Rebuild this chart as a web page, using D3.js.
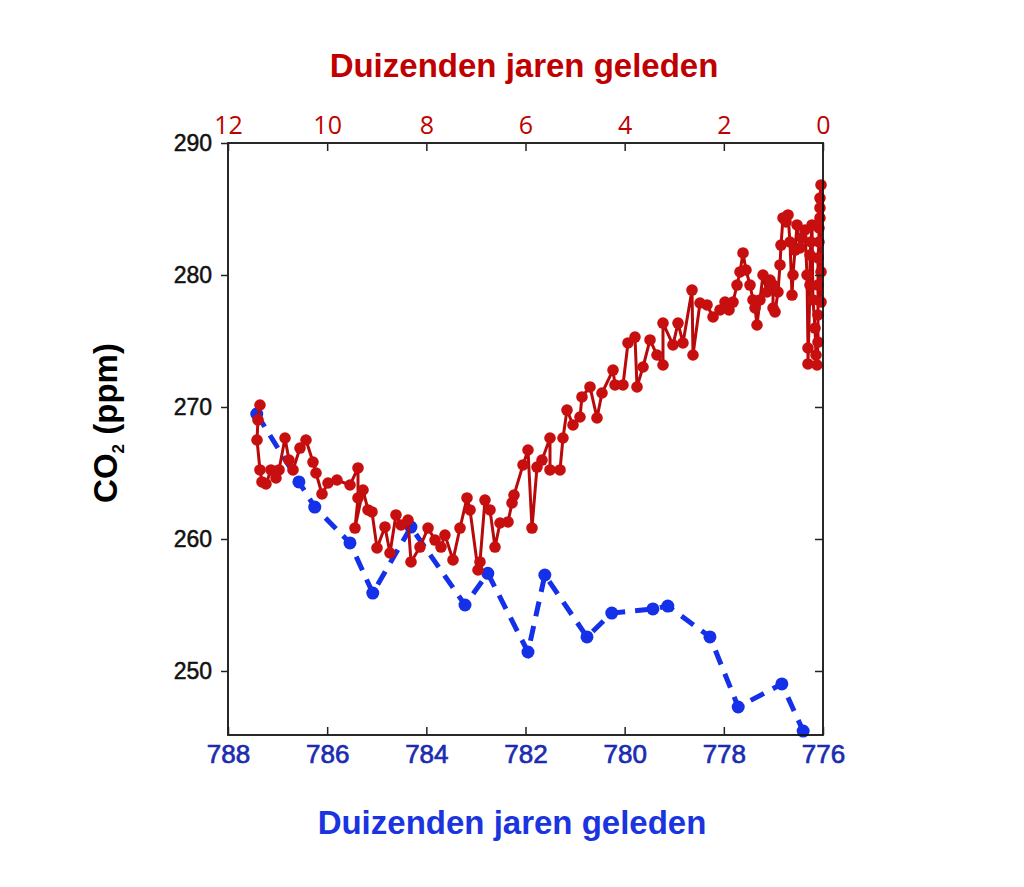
<!DOCTYPE html>
<html lang="nl">
  <head>
    <meta charset="utf-8">
    <title>CO2 (ppm)</title>
    <script type="text/javascript" src="https://d3js.org/d3.v7.min.js"></script>
    <style type="text/css">
    body {
      margin: 0;
      background: #fff;
    }
    .title {
      font-family: "Liberation Sans", Arial, sans-serif;
      font-size: 33px;
      font-weight: bold;
    }
    .axisTop text {
      font-family: "Open Sans", "Liberation Sans", sans-serif;
      font-size: 25px;
      fill: #c00000;
    }
    .axisBottom text {
      font-family: "Liberation Sans", Arial, sans-serif;
      font-size: 26px;
      fill: #1c2cb0;
      stroke: #1c2cb0;
      stroke-width: 0.7px;
    }
    .axisLeft text {
      font-family: "Liberation Sans", Arial, sans-serif;
      font-size: 23px;
      fill: #111;
      stroke: #111;
      stroke-width: 0.5px;
    }
    .tick line {
      stroke: #222;
      stroke-width: 1.5px;
    }
    </style>
  </head>
  <body>
    <svg width="1024" height="887" id="chart"></svg>

    <script type="text/javascript">

    const plotL = 228, plotR = 823, plotT = 143, plotB = 735;

    // top axis: thousands of years ago (red series)
    const topTicks = [12, 10, 8, 6, 4, 2, 0];
    // bottom axis: thousands of years ago (blue series)
    const bottomTicks = [788, 786, 784, 782, 780, 778, 776];
    const yTicks = [250, 260, 270, 280, 290];

    // red series: Holocene
    const redAge = [
      11.355, 11.395, 11.415, 11.355, 11.314, 11.234, 11.133, 11.032, 10.971, 10.850,
      10.770, 10.689, 10.548, 10.427, 10.286, 10.225, 10.104, 9.983, 9.802, 9.539,
      9.378, 9.378, 9.439, 9.277, 9.176, 9.096, 8.995, 8.834, 8.733, 8.612,
      8.511, 8.370, 8.309, 8.128, 7.966, 7.825, 7.704, 7.624, 7.462, 7.321,
      7.180, 7.119, 6.958, 6.918, 6.817, 6.716, 6.615, 6.514, 6.353, 6.272,
      6.232, 6.050, 5.950, 5.869, 5.768, 5.667, 5.506, 5.506, 5.304, 5.244,
      5.163, 5.042, 4.901, 4.861, 4.699, 4.558, 4.457, 4.235, 4.195, 4.034,
      3.933, 3.792, 3.751, 3.630, 3.489, 3.348, 3.227, 3.227, 3.025, 2.924,
      2.824, 2.642, 2.622, 2.481, 2.339, 2.218, 2.077,
      1.976, 1.896, 1.815, 1.734, 1.674, 1.613, 1.553, 1.472, 1.412, 1.371,
      1.331, 1.271, 1.210, 1.129, 1.069, 1.008, 1.008, 0.968, 0.908, 0.867,
      0.847, 0.807, 0.746, 0.706, 0.666, 0.625, 0.605, 0.565, 0.524, 0.464,
      0.424, 0.363, 0.323, 0.303, 0.303, 0.262, 0.262, 0.242, 0.222, 0.202,
      0.161, 0.141, 0.121, 0.101, 0.101, 0.101, 0.101, 0.081, 0.081, 0.061,
      0.061, 0.061, 0.040, 0.040, 0.040
    ];
    const redCO2 = [
      270.15, 269.02, 267.50, 265.23, 264.32, 264.17, 265.23, 264.62, 265.23, 267.65,
      265.98, 265.23, 266.89, 267.50, 265.83, 265.00, 263.41, 264.24, 264.47, 264.09,
      265.38, 263.11, 260.83, 263.71, 262.20, 262.05, 259.32, 260.91, 258.94, 261.82,
      261.06, 261.44, 258.26, 259.39, 260.83, 259.92, 259.39, 260.30, 258.41, 260.83,
      263.11, 262.20, 257.65, 258.26, 262.95, 262.20, 259.39, 261.21, 261.29, 262.73,
      263.33, 265.61, 266.74, 260.83, 265.45, 265.98, 267.65, 265.23, 265.23, 267.65,
      269.77, 268.64, 269.24, 270.76, 271.52, 269.17, 271.06, 272.80, 271.67, 271.67,
      274.85, 275.30, 271.52, 273.03, 275.08, 273.94, 273.18, 276.36, 274.70, 276.36,
      274.85, 278.86, 273.94, 277.88, 277.73, 276.82, 277.35,
      277.95, 277.35, 277.95, 279.24, 280.23, 281.67, 280.38, 279.24, 278.11, 277.50,
      276.21, 278.11, 280.00, 278.71, 279.62, 279.24, 277.50, 277.20, 278.71, 280.76,
      282.27, 284.32, 284.02, 284.55, 282.50, 278.48, 280.00, 281.89, 283.79, 282.05,
      282.80, 283.41, 280.00, 274.47, 273.26, 279.24, 281.52, 282.50, 283.79, 278.11,
      275.98, 273.94, 273.18, 274.92, 276.97, 279.24, 281.29, 282.50, 283.56, 284.32,
      285.08, 285.83, 286.82, 280.23, 277.95
    ];

    // blue series: MIS 19
    const blueAge = [
      787.42, 786.57, 786.25, 785.54, 785.08, 784.31, 783.22, 782.76, 781.95, 781.61,
      780.76, 780.26, 779.43, 779.13, 778.28, 777.71, 776.83, 776.40
    ];
    const blueCO2 = [
      269.47, 264.32, 262.42, 259.70, 255.90, 260.90, 255.00, 257.40, 251.44, 257.27,
      252.58, 254.39, 254.70, 254.92, 252.58, 247.27, 249.02, 245.45
    ];

    const redData = redAge.map((a, i) => ({age: a, co2: redCO2[i]}));
    const blueData = blueAge.map((a, i) => ({age: a, co2: blueCO2[i]}));

    const xTop = d3.scaleLinear()
        .domain([12, 0])
        .range([plotL, plotR]);

    const xBottom = d3.scaleLinear()
        .domain([788, 776])
        .range([plotL, plotR]);

    const yScale = d3.scaleLinear()
        .domain([245.15, 290])
        .range([plotB, plotT]);

    const svg = d3.select("#chart");

    // blue dashed series
    const blueLine = d3.line()
        .x(d => xBottom(d.age))
        .y(d => yScale(d.co2));

    svg.append("path")
        .datum(blueData)
        .attr("d", blueLine)
        .attr("fill", "none")
        .attr("stroke", "#1430e8")
        .attr("stroke-width", 5)
        .attr("stroke-dasharray", "15,10");

    svg.selectAll(".bdot")
        .data(blueData)
        .enter()
        .append("circle")
        .attr("class", "bdot")
        .attr("cx", d => xBottom(d.age))
        .attr("cy", d => yScale(d.co2))
        .attr("r", 6.5)
        .attr("fill", "#1430e8");

    // red series
    const redLine = d3.line()
        .x(d => xTop(d.age))
        .y(d => yScale(d.co2));

    svg.append("path")
        .datum(redData)
        .attr("d", redLine)
        .attr("fill", "none")
        .attr("stroke", "#b80a0a")
        .attr("stroke-width", 3);

    svg.selectAll(".rdot")
        .data(redData)
        .enter()
        .append("circle")
        .attr("class", "rdot")
        .attr("cx", d => xTop(d.age))
        .attr("cy", d => yScale(d.co2))
        .attr("r", 5.8)
        .attr("fill", "#c80f0f");

    // frame
    svg.append("rect")
        .attr("x", plotL)
        .attr("y", plotT)
        .attr("width", plotR - plotL)
        .attr("height", plotB - plotT)
        .attr("fill", "none")
        .attr("stroke", "#111")
        .attr("stroke-width", 1.8);

    // axes
    svg.append("g")
        .attr("class", "axisTop")
        .attr("transform", "translate(0," + plotT + ")")
        .call(d3.axisTop(xTop).tickValues(topTicks).tickSizeInner(-8).tickSizeOuter(0).tickPadding(9))
        .call(g => g.select(".domain").remove());

    svg.append("g")
        .attr("class", "axisBottom")
        .attr("transform", "translate(0," + plotB + ")")
        .call(d3.axisBottom(xBottom).tickValues(bottomTicks).tickSizeInner(-8).tickSizeOuter(0).tickPadding(10))
        .call(g => g.select(".domain").remove());

    svg.append("g")
        .attr("class", "axisLeft")
        .attr("transform", "translate(" + plotL + ",0)")
        .call(d3.axisLeft(yScale).tickValues(yTicks).tickSize(7).tickSizeOuter(0).tickPadding(9))
        .call(g => g.select(".domain").remove());

    svg.append("g")
        .attr("transform", "translate(" + plotR + ",0)")
        .call(d3.axisRight(yScale).tickValues(yTicks.filter(v => v < 290)).tickSizeInner(-8).tickSizeOuter(0).tickFormat(""))
        .call(g => g.select(".domain").remove());

    // titles
    svg.append("text")
        .attr("class", "title")
        .attr("x", 524)
        .attr("y", 77)
        .attr("text-anchor", "middle")
        .attr("fill", "#c00000")
        .text("Duizenden jaren geleden");

    svg.append("text")
        .attr("class", "title")
        .attr("x", 512)
        .attr("y", 834)
        .attr("text-anchor", "middle")
        .attr("fill", "#1a34e0")
        .text("Duizenden jaren geleden");

    const ylab = svg.append("text")
        .attr("class", "title")
        .attr("font-size", "29px")
        .attr("text-anchor", "middle")
        .attr("transform", "translate(117,423) rotate(-90)")
        .attr("fill", "#000");
    ylab.append("tspan").text("CO");
    ylab.append("tspan").attr("font-size", "17px").attr("dy", 7).text("2");
    ylab.append("tspan").attr("dy", -7).text(" (ppm)");

    </script>
  </body>
</html>
